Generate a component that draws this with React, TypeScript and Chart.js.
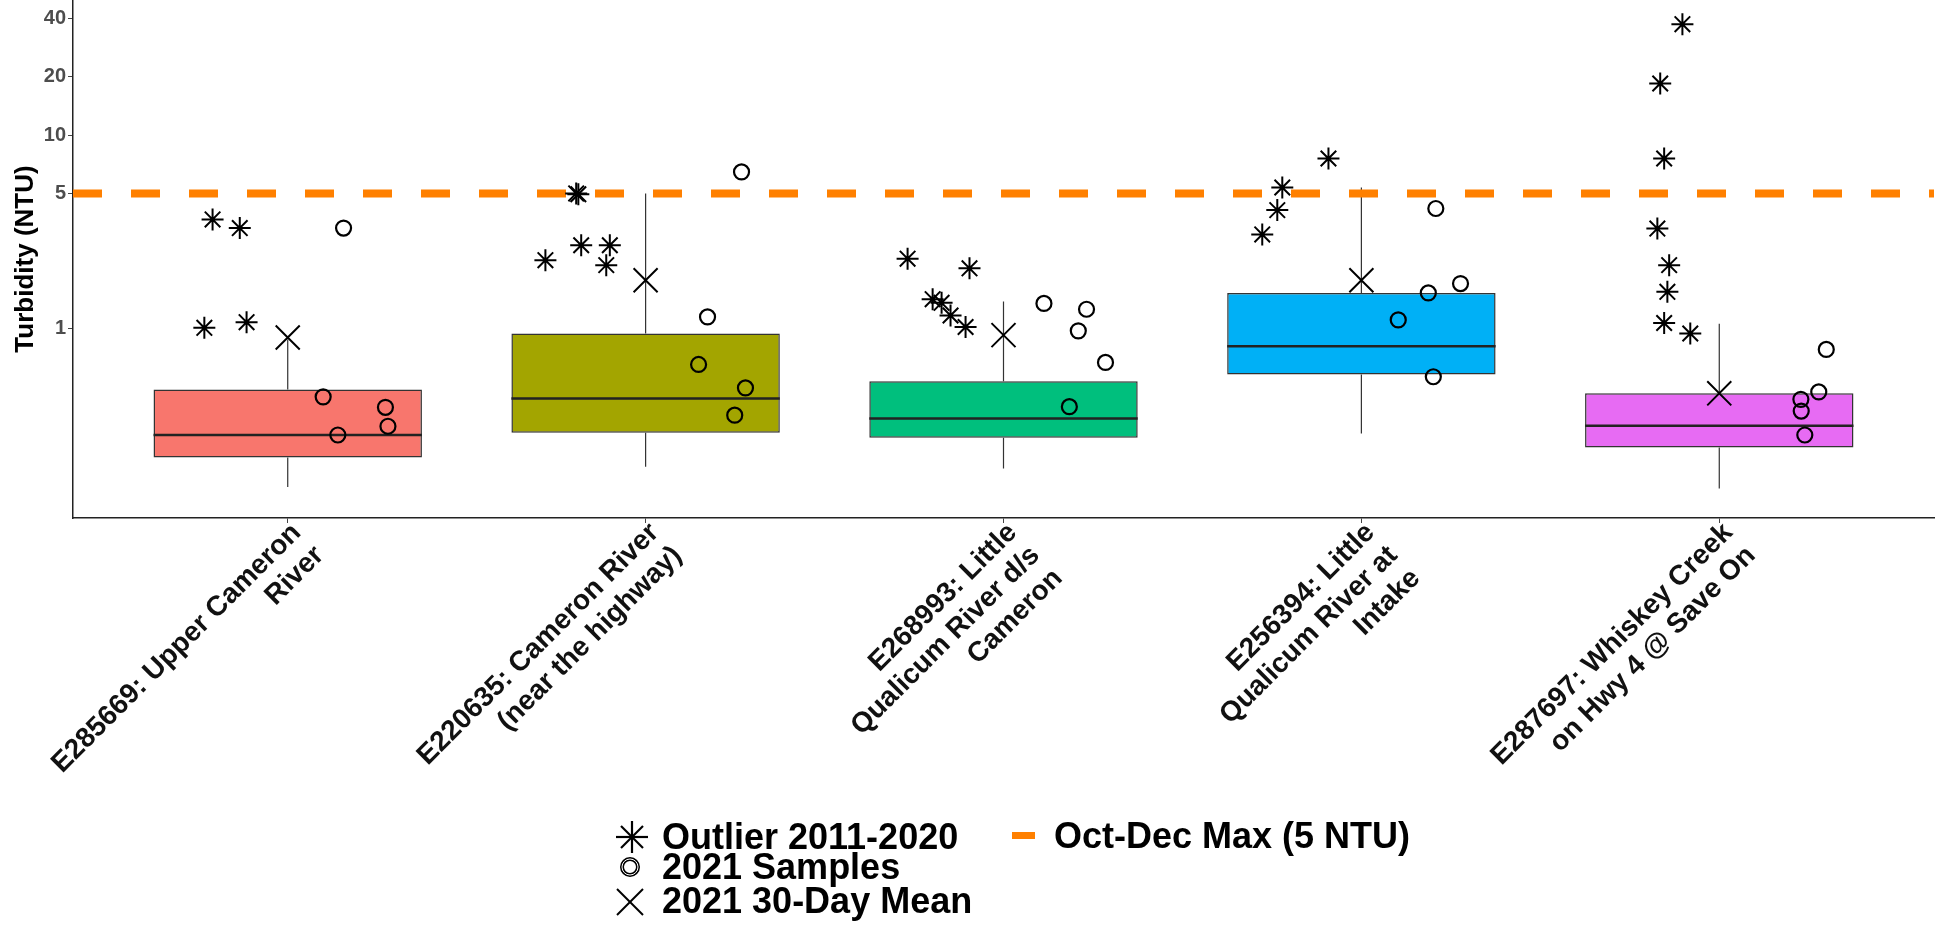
import React, { useEffect, useRef } from 'react';
import { Chart, registerables } from 'chart.js';

Chart.register(...registerables);

// ---------- data ----------
const SITES: string[][] = [
  ['E285669: Upper Cameron', 'River'],
  ['E220635: Cameron River', '(near the highway)'],
  ['E268993: Little', 'Qualicum River d/s', 'Cameron'],
  ['E256394: Little', 'Qualicum River at', 'Intake'],
  ['E287697: Whiskey Creek', 'on Hwy 4 @ Save On'],
];
const BOX_COLORS = ['#F8766D', '#A3A500', '#00BF7D', '#00B0F6', '#E76BF3'];

// 2011-2020 box statistics (NTU)
const WHISKER_LOW = [0.152, 0.193, 0.189, 0.287, 0.149];
const Q1 = [0.216, 0.29, 0.273, 0.58, 0.243];
const MEDIAN = [0.282, 0.436, 0.343, 0.812, 0.315];
const Q3 = [0.485, 0.944, 0.535, 1.53, 0.463];
const WHISKER_HIGH = [0.88, 5.0, 1.38, 5.37, 1.06];

// 2021 30-day mean
const MEAN_2021 = [0.9, 1.78, 0.926, 1.78, 0.463];

// Outliers 2011-2020 (per site) and their horizontal jitter (category units)
const OUTLIERS: number[][] = [
  [3.67, 3.31, 1.01, 1.08],
  [5.0, 4.95, 2.7, 2.7, 2.26, 2.13],
  [2.3, 2.05, 1.42, 1.36, 1.17, 1.02],
  [7.58, 5.37, 4.1, 3.07],
  [37.5, 18.5, 7.58, 3.29, 2.13, 1.55, 1.07, 0.944],
];
const OUTLIER_JITTER: number[][] = [
  [-0.21, -0.134, -0.233, -0.115],
  [-0.194, -0.188, -0.18, -0.1, -0.28, -0.11],
  [-0.268, -0.095, -0.198, -0.173, -0.148, -0.106],
  [-0.092, -0.221, -0.235, -0.277],
  [-0.103, -0.165, -0.154, -0.173, -0.14, -0.145, -0.154, -0.081],
];

// 2021 samples (per site) and their horizontal jitter
const SAMPLES: number[][] = [
  [3.31, 0.444, 0.282, 0.392, 0.313],
  [6.46, 1.15, 0.653, 0.494, 0.357],
  [1.35, 1.26, 0.974, 0.669, 0.395],
  [4.18, 1.71, 1.53, 1.11, 0.564],
  [0.781, 0.471, 0.431, 0.375, 0.282],
];
const SAMPLE_JITTER: number[][] = [
  [0.156, 0.099, 0.14, 0.273, 0.28],
  [0.268, 0.173, 0.148, 0.279, 0.249],
  [0.113, 0.232, 0.209, 0.285, 0.184],
  [0.208, 0.277, 0.187, 0.103, 0.201],
  [0.299, 0.278, 0.228, 0.229, 0.239],
];

const THRESHOLD = 5;
const Y_TICKS = [1, 5, 10, 20, 40];
const Y_MIN = 0.105;
const Y_MAX = 50;

// ---------- style constants ----------
const W = 1949;
const H = 925;
const PLOT_BOTTOM = 518;
const Y_AXIS_WIDTH = 73;
const BOX_WIDTH = 0.75;
const FONT = "'Liberation Sans', Arial, sans-serif";

function buildDatasets(): any[] {
  const idx = SITES.map((_, i) => i);
  const whiskers: any[] = [];
  const medians: any[] = [];
  idx.forEach((i) => {
    whiskers.push({ x: i, y: WHISKER_LOW[i] }, { x: i, y: Q1[i] }, { x: i, y: null });
    whiskers.push({ x: i, y: Q3[i] }, { x: i, y: WHISKER_HIGH[i] }, { x: i, y: null });
    medians.push(
      { x: i - BOX_WIDTH / 2, y: MEDIAN[i] },
      { x: i + BOX_WIDTH / 2, y: MEDIAN[i] },
      { x: i, y: null }
    );
  });
  const outliers: any[] = [];
  OUTLIERS.forEach((arr, i) =>
    arr.forEach((v, j) => outliers.push({ x: i + OUTLIER_JITTER[i][j], y: v }))
  );
  const samples: any[] = [];
  SAMPLES.forEach((arr, i) =>
    arr.forEach((v, j) => samples.push({ x: i + SAMPLE_JITTER[i][j], y: v }))
  );
  const means = idx.map((i) => ({ x: i, y: MEAN_2021[i] }));

  return [
    {
      type: 'line',
      label: 'whiskers',
      data: whiskers,
      borderColor: '#333333',
      borderWidth: 1.2,
      pointRadius: 0,
      spanGaps: false,
      order: 6,
    },
    {
      type: 'bar',
      label: 'boxes',
      data: idx.map((i) => ({ x: i, y: [Q1[i], Q3[i]] })),
      backgroundColor: BOX_COLORS,
      borderColor: '#333333',
      borderWidth: 1.5,
      borderSkipped: false,
      barPercentage: BOX_WIDTH,
      categoryPercentage: 1,
      order: 5,
    },
    {
      type: 'line',
      label: 'medians',
      data: medians,
      borderColor: '#222222',
      borderWidth: 2.5,
      pointRadius: 0,
      spanGaps: false,
      order: 4,
    },
    {
      type: 'line',
      label: 'Oct-Dec Max (5 NTU)',
      data: [
        { x: -0.6, y: THRESHOLD },
        { x: SITES.length - 0.4, y: THRESHOLD },
      ],
      borderColor: '#FF8000',
      borderWidth: 8,
      borderDash: [29, 29],
      pointRadius: 0,
      order: 3,
    },
    {
      type: 'scatter',
      label: 'Outlier 2011-2020',
      data: outliers,
      pointStyle: 'star',
      pointRadius: 11,
      borderColor: '#000000',
      backgroundColor: '#000000',
      borderWidth: 2,
      order: 2,
    },
    {
      type: 'scatter',
      label: '2021 Samples',
      data: samples,
      pointStyle: 'circle',
      pointRadius: 7.5,
      borderColor: '#000000',
      backgroundColor: 'rgba(0,0,0,0)',
      borderWidth: 2.2,
      order: 1,
    },
    {
      type: 'scatter',
      label: '2021 30-Day Mean',
      data: means,
      pointStyle: 'crossRot',
      pointRadius: 17,
      borderColor: '#000000',
      backgroundColor: '#000000',
      borderWidth: 2,
      order: 0,
    },
  ];
}

function ChartCanvas() {
  const ref = useRef<HTMLCanvasElement | null>(null);
  useEffect(() => {
    if (!ref.current) return;
    const chart = new Chart(ref.current, {
      type: 'scatter',
      data: { datasets: buildDatasets() } as any,
      options: {
        animation: false,
        responsive: false,
        devicePixelRatio: 1,
        layout: { autoPadding: false, padding: { left: 0, right: 15, top: 0, bottom: 0 } },
        plugins: { legend: { display: false }, tooltip: { enabled: false } },
        scales: {
          x: {
            type: 'linear',
            offset: false,
            min: -0.6,
            max: SITES.length - 0.4,
            afterBuildTicks: (scale: any) => {
              scale.ticks = SITES.map((_, i) => ({ value: i }));
            },
            afterFit: (scale: any) => {
              scale.height = H - PLOT_BOTTOM;
              scale.paddingLeft = 0;
              scale.paddingRight = 0;
            },
            border: { display: true, color: '#222222', width: 1.5 },
            grid: {
              display: true,
              offset: false,
              drawOnChartArea: false,
              drawTicks: true,
              tickLength: 5,
              color: '#444444',
            },
            ticks: {
              autoSkip: false,
              minRotation: 45,
              maxRotation: 45,
              padding: -6,
              labelOffset: 9,
              color: '#111111',
              font: { family: FONT, size: 28, weight: 'bold', lineHeight: 1.15 },
              callback: (v: any) => SITES[Math.round(Number(v))] ?? '',
            },
          },
          y: {
            type: 'logarithmic',
            min: Y_MIN,
            max: Y_MAX,
            afterBuildTicks: (scale: any) => {
              scale.ticks = Y_TICKS.map((v) => ({ value: v }));
            },
            afterFit: (scale: any) => {
              scale.width = Y_AXIS_WIDTH;
              scale.paddingTop = 0;
              scale.paddingBottom = 0;
            },
            border: { display: true, color: '#222222', width: 1.5 },
            grid: {
              display: true,
              drawOnChartArea: false,
              drawTicks: true,
              tickLength: 5,
              color: '#444444',
            },
            ticks: {
              padding: 2,
              color: '#4D4D4D',
              font: { family: FONT, size: 20, weight: 'bold' },
              callback: (v: any) => String(v),
            },
            title: {
              display: true,
              text: 'Turbidity (NTU)',
              color: '#000000',
              font: { family: FONT, size: 26, weight: 'bold' },
              padding: { top: 10, bottom: 0 },
            },
          },
        },
      } as any,
    });
    return () => chart.destroy();
  }, []);
  return <canvas ref={ref} width={W} height={H} style={{ width: W, height: H, display: 'block' }} />;
}

const legendText: React.CSSProperties = {
  position: 'absolute',
  fontFamily: FONT,
  fontWeight: 'bold',
  fontSize: 36,
  lineHeight: '36px',
  color: '#000',
  whiteSpace: 'nowrap',
};

function Legend() {
  return (
    <>
      <svg style={{ position: 'absolute', left: 615, top: 820 }} width={34} height={34} viewBox="0 0 34 34">
        <g stroke="#000" strokeWidth={2.2}>
          <line x1={17} y1={1} x2={17} y2={33} />
          <line x1={1} y1={17} x2={33} y2={17} />
          <line x1={6} y1={6} x2={28} y2={28} />
          <line x1={28} y1={6} x2={6} y2={28} />
        </g>
      </svg>
      <div style={{ ...legendText, left: 662, top: 819 }}>Outlier 2011-2020</div>

      <svg style={{ position: 'absolute', left: 618, top: 855 }} width={24} height={24} viewBox="0 0 24 24">
        <circle cx={12} cy={12} r={8} fill="none" stroke="#000" strokeWidth={4} />
        <circle cx={12} cy={12} r={8} fill="none" stroke="#fff" strokeWidth={1} />
      </svg>
      <div style={{ ...legendText, left: 662, top: 849 }}>2021 Samples</div>

      <svg style={{ position: 'absolute', left: 616, top: 888 }} width={28} height={28} viewBox="0 0 28 28">
        <g stroke="#000" strokeWidth={2}>
          <line x1={1} y1={1} x2={27} y2={27} />
          <line x1={27} y1={1} x2={1} y2={27} />
        </g>
      </svg>
      <div style={{ ...legendText, left: 662, top: 883 }}>2021 30-Day Mean</div>

      <div style={{ position: 'absolute', left: 1012, top: 832, width: 23, height: 7, background: '#FF8000' }} />
      <div style={{ ...legendText, left: 1054, top: 818 }}>Oct-Dec Max (5 NTU)</div>
    </>
  );
}

export default function App() {
  return (
    <div
      style={{
        position: 'fixed',
        left: 0,
        top: 0,
        width: W,
        height: H,
        background: '#ffffff',
        overflow: 'hidden',
      }}
    >
      <ChartCanvas />
      <Legend />
    </div>
  );
}
